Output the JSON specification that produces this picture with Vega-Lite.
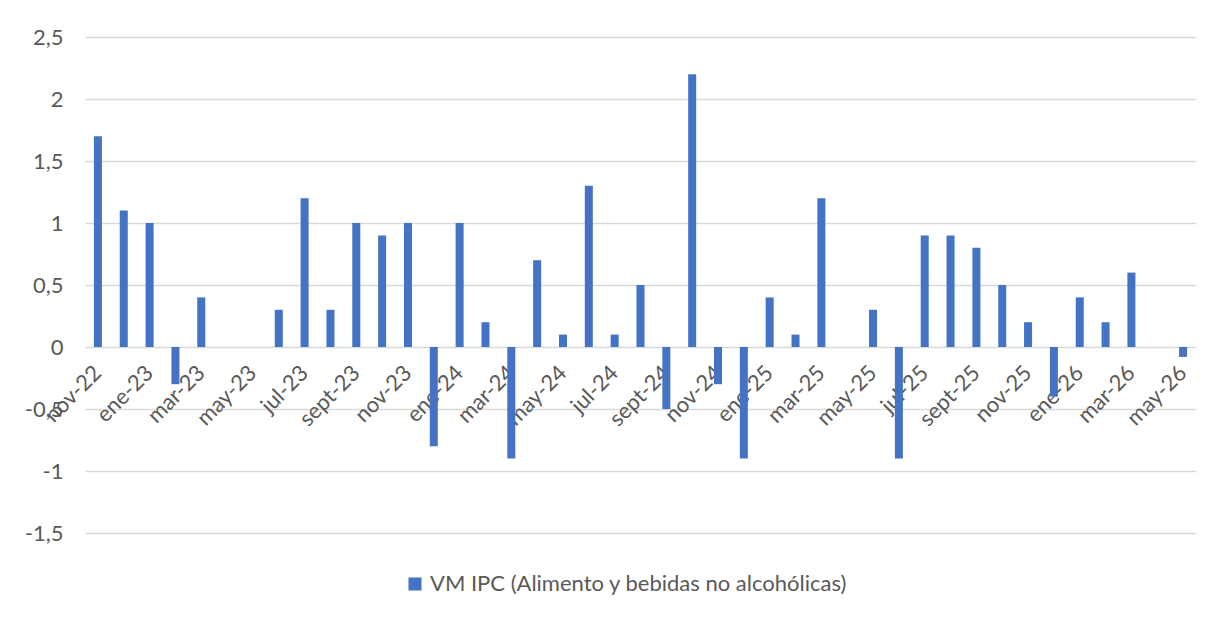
{
  "$schema": "https://vega.github.io/schema/vega-lite/v6.json",
  "width": 1111,
  "height": 496,
  "autosize": {"type": "none"},
  "padding": {"left": 85, "top": 37, "right": 36, "bottom": 84},
  "background": "white",
  "config": {
    "font": "Lato",
    "view": {"stroke": null},
    "axis": {"labelFont": "Lato", "labelColor": "#595959", "labelFontSize": 22, "titleFont": "Lato"},
    "legend": {"labelFont": "Lato", "labelColor": "#595959", "labelFontSize": 22}
  },
  "data": {
    "values": [
      {"mes": "nov-22", "valor": 1.7},
      {"mes": "dic-22", "valor": 1.1},
      {"mes": "ene-23", "valor": 1.0},
      {"mes": "feb-23", "valor": -0.3},
      {"mes": "mar-23", "valor": 0.4},
      {"mes": "abr-23", "valor": 0},
      {"mes": "may-23", "valor": 0},
      {"mes": "jun-23", "valor": 0.3},
      {"mes": "jul-23", "valor": 1.2},
      {"mes": "ago-23", "valor": 0.3},
      {"mes": "sept-23", "valor": 1.0},
      {"mes": "oct-23", "valor": 0.9},
      {"mes": "nov-23", "valor": 1.0},
      {"mes": "dic-23", "valor": -0.8},
      {"mes": "ene-24", "valor": 1.0},
      {"mes": "feb-24", "valor": 0.2},
      {"mes": "mar-24", "valor": -0.9},
      {"mes": "abr-24", "valor": 0.7},
      {"mes": "may-24", "valor": 0.1},
      {"mes": "jun-24", "valor": 1.3},
      {"mes": "jul-24", "valor": 0.1},
      {"mes": "ago-24", "valor": 0.5},
      {"mes": "sept-24", "valor": -0.5},
      {"mes": "oct-24", "valor": 2.2},
      {"mes": "nov-24", "valor": -0.3},
      {"mes": "dic-24", "valor": -0.9},
      {"mes": "ene-25", "valor": 0.4},
      {"mes": "feb-25", "valor": 0.1},
      {"mes": "mar-25", "valor": 1.2},
      {"mes": "abr-25", "valor": 0},
      {"mes": "may-25", "valor": 0.3},
      {"mes": "jun-25", "valor": -0.9},
      {"mes": "jul-25", "valor": 0.9},
      {"mes": "ago-25", "valor": 0.9},
      {"mes": "sept-25", "valor": 0.8},
      {"mes": "oct-25", "valor": 0.5},
      {"mes": "nov-25", "valor": 0.2},
      {"mes": "dic-25", "valor": -0.4},
      {"mes": "ene-26", "valor": 0.4},
      {"mes": "feb-26", "valor": 0.2},
      {"mes": "mar-26", "valor": 0.6},
      {"mes": "abr-26", "valor": 0},
      {"mes": "may-26", "valor": -0.08}
    ]
  },
  "mark": {"type": "bar", "color": "#4472C4"},
  "encoding": {
    "x": {
      "field": "mes",
      "type": "nominal",
      "sort": null,
      "scale": {"paddingInner": 0.69, "paddingOuter": 0.345},
      "axis": {
        "title": null,
        "offset": -186,
        "domain": false,
        "ticks": false,
        "grid": false,
        "labelAngle": -45,
        "labelAlign": "right",
        "labelBaseline": "middle",
        "labelPadding": 22,
        "labelOverlap": false,
        "values": ["nov-22","ene-23","mar-23","may-23","jul-23","sept-23","nov-23","ene-24","mar-24","may-24","jul-24","sept-24","nov-24","ene-25","mar-25","may-25","jul-25","sept-25","nov-25","ene-26","mar-26","may-26"]
      }
    },
    "y": {
      "field": "valor",
      "type": "quantitative",
      "scale": {"domain": [-1.5, 2.5], "nice": false, "zero": false},
      "axis": {
        "title": null,
        "domain": false,
        "ticks": false,
        "grid": true,
        "gridColor": "#D9D9D9",
        "gridWidth": 1.5,
        "labelPadding": 22,
        "values": [-1.5, -1, -0.5, 0, 0.5, 1, 1.5, 2, 2.5],
        "labelExpr": "replace(toString(datum.value), '.', ',')"
      }
    },
    "color": {
      "datum": "VM IPC (Alimento y bebidas no alcohólicas)",
      "type": "nominal",
      "scale": {"range": ["#4472C4"]},
      "legend": {
        "title": null,
        "orient": "none",
        "legendX": 319,
        "legendY": 536,
        "labelLimit": 0,
        "symbolType": "square",
        "symbolSize": 170,
        "symbolStrokeWidth": 0
      }
    }
  }
}
